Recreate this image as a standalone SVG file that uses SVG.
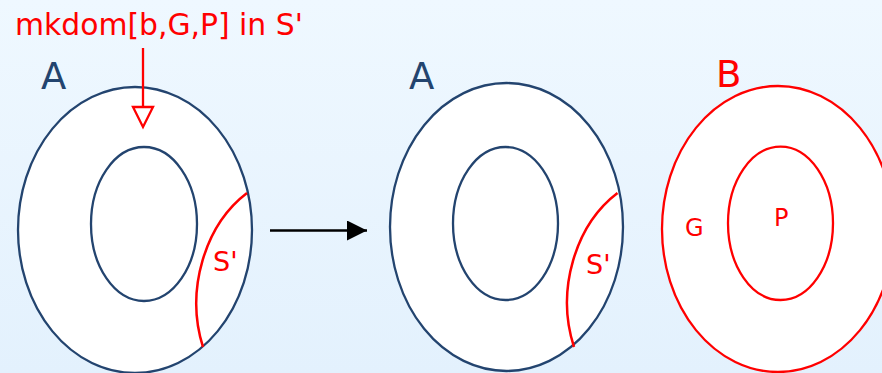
<svg xmlns="http://www.w3.org/2000/svg" width="882" height="373" viewBox="0 0 882 373">
<defs>
<linearGradient id="bg" x1="0" y1="0" x2="0" y2="1">
<stop offset="0" stop-color="#eff8ff"/>
<stop offset="1" stop-color="#e3f1fd"/>
</linearGradient>
<marker id="blk" markerUnits="userSpaceOnUse" markerWidth="22" markerHeight="22" refX="21" refY="10" orient="auto">
<path d="M1,0 L21,10 L1,20 Z" fill="#000"/>
</marker>
</defs>
<style>
.t{font-family:"DejaVu Sans",sans-serif}
.navy{fill:#23446f}
.red{fill:#ff0000}
.ob{fill:#fff;stroke:#23446f;stroke-width:2.3}
.ib{fill:none;stroke:#23446f;stroke-width:2.3}
.or{fill:#fff;stroke:#ff0000;stroke-width:2.3}
.ir{fill:none;stroke:#ff0000;stroke-width:2.3}
.arc{fill:none;stroke:#ff0000;stroke-width:2.5}
</style>
<rect width="882" height="373" fill="url(#bg)"/>
<g id="A1">
<ellipse class="ob" cx="135" cy="230" rx="117" ry="143"/>
<ellipse class="ib" cx="144" cy="224" rx="53" ry="77"/>
<path class="arc" d="M247,193 C205,225 185,290 203,347"/>
<text class="t red" x="213" y="271" font-size="27">S'</text>
<text class="t navy" x="41" y="89" font-size="37">A</text>
</g>
<g id="A2">
<ellipse class="ob" cx="506.5" cy="227" rx="116.5" ry="144"/>
<ellipse class="ib" cx="505.5" cy="223.5" rx="52.5" ry="76.5"/>
<path class="arc" d="M617.5,193 C575.5,225 555.5,290 574,347"/>
<text class="t red" x="586" y="274" font-size="27">S'</text>
<text class="t navy" x="409" y="89" font-size="37">A</text>
</g>
<g id="B">
<ellipse class="or" cx="778" cy="229" rx="116" ry="143"/>
<ellipse class="ir" cx="780.5" cy="223.3" rx="52.5" ry="76.7"/>
<text class="t red" x="716" y="87" font-size="37">B</text>
<text class="t red" x="685" y="236" font-size="24">G</text>
<text class="t red" x="774" y="226" font-size="24">P</text>
</g>
<g id="label">
<text class="t red" x="15" y="35" font-size="29.8">mkdom[b,G,P] in S'</text>
</g>
<g id="connectors">
<line x1="143" y1="48" x2="143" y2="107" stroke="#ff0000" stroke-width="2.3"/>
<path d="M133,107 L153,107 L143,127 Z" fill="#fff" stroke="#ff0000" stroke-width="2.3"/>
<line x1="270" y1="230.5" x2="367" y2="230.5" stroke="#000" stroke-width="2.3" marker-end="url(#blk)"/>
</g>
</svg>
